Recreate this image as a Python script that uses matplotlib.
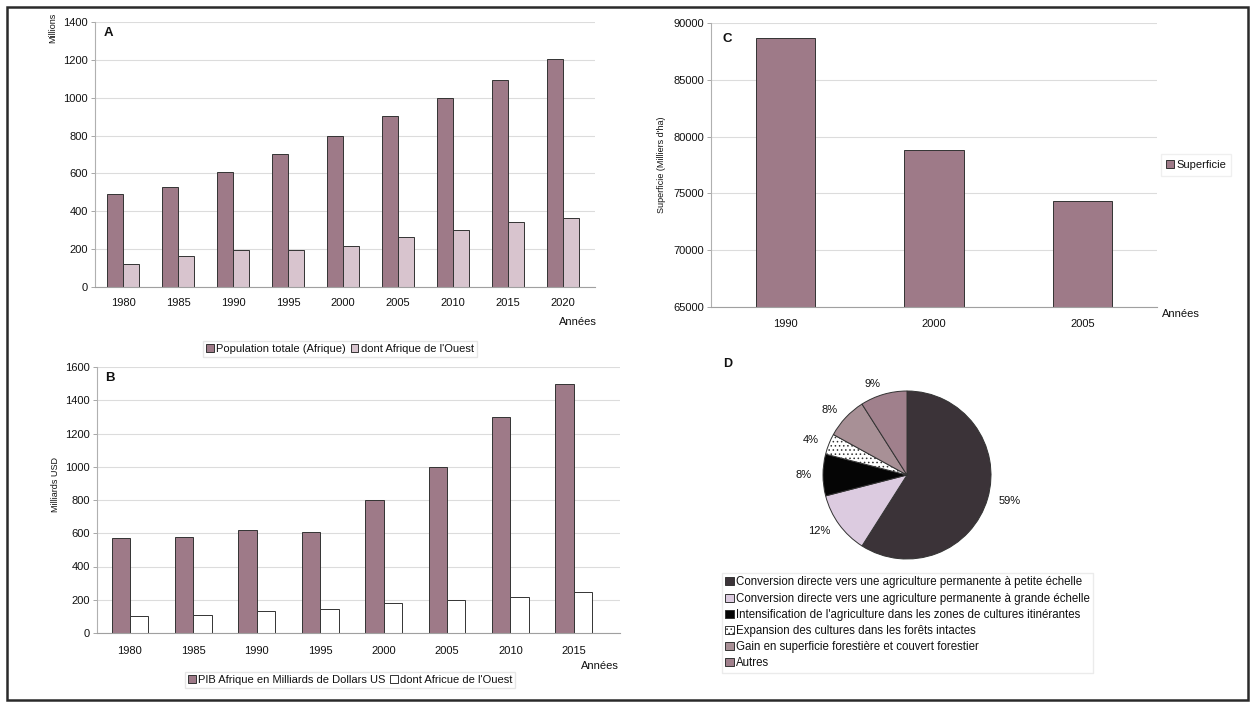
import matplotlib
matplotlib.use("Agg")
import matplotlib.pyplot as plt
from matplotlib.patches import Rectangle
import numpy as np

plt.rcParams['font.family'] = ['Liberation Sans', 'DejaVu Sans']
plt.rcParams['hatch.linewidth'] = 0.6

# ---- Data ----
pop_years = ["1980", "1985", "1990", "1995", "2000", "2005", "2010", "2015", "2020"]
pop_africa = [490, 530, 610, 700, 800, 905, 1000, 1095, 1205]
pop_west = [120, 165, 195, 195, 215, 265, 300, 345, 365]

gdp_years = ["1980", "1985", "1990", "1995", "2000", "2005", "2010", "2015"]
gdp_africa = [570, 580, 620, 610, 800, 1000, 1300, 1500]
gdp_west = [100, 110, 135, 145, 180, 200, 215, 245]

forest_years = ["1990", "2000", "2005"]
forest_area = [88700, 78800, 74300]

cause_labels = [
    "Conversion directe vers une agriculture permanente à petite échelle",
    "Conversion directe vers une agriculture permanente à grande échelle",
    "Intensification de l'agriculture dans les zones de cultures itinérantes",
    "Expansion des cultures dans les forêts intactes",
    "Gain en superficie forestière et couvert forestier",
    "Autres",
]
cause_share = [59, 12, 8, 4, 8, 9]

# ---- Styles ----
W, H = 1253, 702
MAUVE = "#9e7a88"
LIGHT = "#d8c4ce"
EDGE = "#333333"
TXT = "#111111"
GRID = "#dcdcdc"
FS = 8

fig = plt.figure(figsize=(W / 100, H / 100), dpi=100)
fig.patch.set_facecolor("white")


def px_axes(left, top, right, bottom, **kw):
    return fig.add_axes([left / W, 1 - bottom / H, (right - left) / W, (bottom - top) / H], **kw)


def fx(x):
    return x / W


def fy(y):
    return 1 - y / H


def style_bar_axes(ax, pad):
    for s in ("top", "right"):
        ax.spines[s].set_visible(False)
    ax.spines["left"].set_color("#b0b0b0")
    ax.spines["left"].set_linewidth(0.8)
    ax.spines["bottom"].set_color("#a0a0a0")
    ax.spines["bottom"].set_linewidth(0.8)
    ax.yaxis.grid(True, color=GRID, linewidth=0.8)
    ax.set_axisbelow(True)
    ax.tick_params(axis="y", length=3, width=0.6, color="#999999", labelsize=FS, labelcolor=TXT, pad=2)
    ax.tick_params(axis="x", length=0, labelsize=FS, labelcolor=TXT, pad=pad)


legend_kw = dict(fontsize=FS, handlelength=0.7, handleheight=0.7, handletextpad=0.2,
                 frameon=True, fancybox=False, labelcolor=TXT)

# ---- Panel A: population ----
axA = px_axes(95, 22, 595, 287)
xa = np.arange(len(pop_years))
bw = 0.29
axA.bar(xa - bw / 2, pop_africa, bw, color=MAUVE, edgecolor=EDGE, linewidth=0.7,
        label="Population totale (Afrique)")
axA.bar(xa + bw / 2, pop_west, bw, color=LIGHT, edgecolor=EDGE, linewidth=0.7,
        label="dont Afrique de l'Ouest")
axA.set_xlim(-0.51, 8.58)
axA.set_ylim(0, 1400)
axA.set_yticks(np.arange(0, 1401, 200))
axA.set_xticks(xa)
axA.set_xticklabels(pop_years)
style_bar_axes(axA, 8)
fig.text(fx(108), fy(33), "A", fontsize=9.5, fontweight="bold", color=TXT, ha="center", va="center")
fig.text(fx(53), fy(28), "Millions", fontsize=6.5, rotation=90, color=TXT, ha="center", va="center")
fig.text(fx(578), fy(322), "Années", fontsize=FS, color=TXT, ha="center", va="center")
hA, lA = axA.get_legend_handles_labels()
fig.legend(hA, lA, loc="center", bbox_to_anchor=(fx(340), fy(349)), ncol=2,
           columnspacing=0.4, edgecolor="#e0e0e0", borderpad=0.3, **legend_kw)

# ---- Panel B: GDP ----
axB = px_axes(97, 367, 620, 633)
xb = np.arange(len(gdp_years))
axB.bar(xb - bw / 2, gdp_africa, bw, color=MAUVE, edgecolor=EDGE, linewidth=0.7,
        label="PIB Afrique en Milliards de Dollars US")
axB.bar(xb + bw / 2, gdp_west, bw, color="white", edgecolor=EDGE, linewidth=0.7,
        label="dont Africue de l'Ouest")
axB.set_xlim(-0.52, 7.73)
axB.set_ylim(0, 1600)
axB.set_yticks(np.arange(0, 1601, 200))
axB.set_xticks(xb)
axB.set_xticklabels(gdp_years)
style_bar_axes(axB, 9)
fig.text(fx(110), fy(378), "B", fontsize=9.5, fontweight="bold", color=TXT, ha="center", va="center")
fig.text(fx(55), fy(485), "Milliards USD", fontsize=6.5, rotation=90, color=TXT, ha="center", va="center")
fig.text(fx(600), fy(666), "Années", fontsize=FS, color=TXT, ha="center", va="center")
hB, lB = axB.get_legend_handles_labels()
fig.legend(hB, lB, loc="center", bbox_to_anchor=(fx(350), fy(680)), ncol=2,
           columnspacing=0.4, edgecolor="#e0e0e0", borderpad=0.3, **legend_kw)

# ---- Panel C: forest area ----
axC = px_axes(711, 23, 1157, 307)
xc = np.arange(len(forest_years))
axC.bar(xc, np.array(forest_area) - 65000, 0.40, bottom=65000, color=MAUVE,
        edgecolor=EDGE, linewidth=0.7, label="Superficie")
axC.set_xlim(-0.5, 2.5)
axC.set_ylim(65000, 90000)
axC.set_yticks(np.arange(65000, 90001, 5000))
axC.set_xticks(xc)
axC.set_xticklabels(forest_years)
style_bar_axes(axC, 9)
fig.text(fx(727), fy(39), "C", fontsize=9.5, fontweight="bold", color=TXT, ha="center", va="center")
fig.text(fx(662), fy(165), "Superficie (Milliers d'ha)", fontsize=6.5, rotation=90, color=TXT,
         ha="center", va="center")
fig.text(fx(1181), fy(314), "Années", fontsize=FS, color=TXT, ha="center", va="center")
hC, lC = axC.get_legend_handles_labels()
fig.legend(hC, lC, loc="center", bbox_to_anchor=(fx(1196), fy(165)),
           edgecolor="#ececec", borderpad=0.5, **legend_kw)

# ---- Panel D: causes pie ----
axD = px_axes(823, 391, 991, 559)
pie_colors = ["#3b3338", "#dccbe0", "#050505", "white", "#a89096", "#a0808c"]
pie_hatch = [None, None, None, "....", None, None]
wedges, texts = axD.pie(cause_share, labels=[f"{v}%" for v in cause_share],
                        colors=pie_colors, startangle=90, counterclock=False,
                        labeldistance=1.13,
                        wedgeprops=dict(edgecolor="#333333", linewidth=0.7),
                        textprops=dict(fontsize=FS, color=TXT))
for w, h in zip(wedges, pie_hatch):
    if h:
        w.set_hatch(h)
axD.set_xlim(-1, 1)
axD.set_ylim(-1, 1)
fig.text(fx(728), fy(364), "D", fontsize=9, fontweight="bold", color=TXT, ha="center", va="center")
fig.legend(wedges, cause_labels, loc="upper left", bbox_to_anchor=(fx(722), fy(573)),
           labelspacing=0.36, edgecolor="#e6e6e6", borderpad=0.3, borderaxespad=0,
           **{**legend_kw, "fontsize": 8.3})

# ---- Outer frame ----
fig.patches.append(Rectangle((fx(7), fy(700)), fx(1248) - fx(7), fy(7) - fy(700),
                             transform=fig.transFigure, fill=False,
                             edgecolor="#2a2a2a", linewidth=1.8))

fig.savefig("out.png", dpi=100, facecolor="white")
